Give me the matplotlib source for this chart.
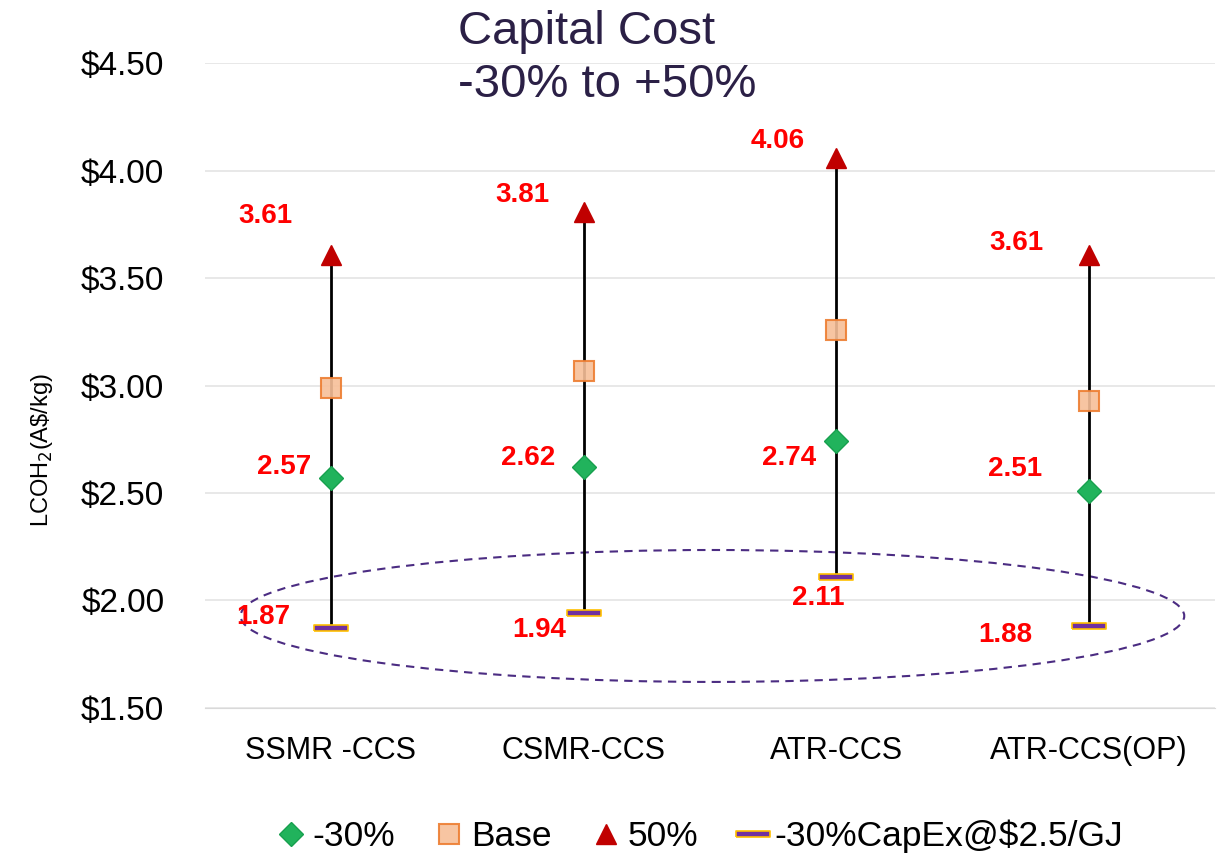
import matplotlib.pyplot as plt
from matplotlib.patches import Ellipse

plt.rcParams['font.family'] = ['Liberation Sans', 'DejaVu Sans']

# LCOH2 sensitivity to capital cost (A$/kg)
routes = ["SSMR -CCS", "CSMR-CCS", "ATR-CCS", "ATR-CCS(OP)"]
low_30 = [2.57, 2.62, 2.74, 2.51]
base = [2.99, 3.07, 3.26, 2.93]
high_50 = [3.61, 3.81, 4.06, 3.61]
low_capex_gas = [1.87, 1.94, 2.11, 1.88]
yticks = [1.5, 2.0, 2.5, 3.0, 3.5, 4.0, 4.5]

# label offsets (points) for each route
off_low = [(-34, 8), (-40, 7), (-34, -12), (-53, 16)]
off_high = [(-47, 28), (-44, 12), (-42, 12), (-52, 8)]
off_gas = [(-49, 8), (-32, -12), (-13, -15), (-60, -6)]

fig = plt.figure(figsize=(12.25, 8.55), dpi=100)
ax = fig.add_axes([0.167, 0.172, 0.825, 0.754])
x = list(range(len(routes)))

# range lines from lowest to highest case
for i in x:
    ax.plot([i, i], [low_capex_gas[i], high_50[i]], color='black', lw=2, zorder=2)

bar_marker = [(-5, -1), (5, -1), (5, 1), (-5, 1), (-5, -1)]
ax.plot(x, low_30, 'D', ms=12, mfc='#21b35c', mec='#17a04e', ls='none', label='-30%', zorder=3)
ax.plot(x, base, 's', ms=15, mfc='#f7bf98', mec='#ed7d31', mew=1.5, ls='none', label='Base', zorder=3, alpha=0.9)
ax.plot(x, high_50, '^', ms=15, mfc='#c00000', mec='#c00000', ls='none', label='50%', zorder=3)
ax.plot(x, low_capex_gas, marker=bar_marker, ms=25, mfc='#7030a0', mec='#ffc000', mew=1.2,
        ls='none', label='-30%CapEx@$2.5/GJ', zorder=4)

lbl = dict(color='red', fontsize=20, fontweight='bold', textcoords='offset points',
           ha='center', va='center')
for i in x:
    ax.annotate(f"{low_30[i]:.2f}", (i, low_30[i]), xytext=off_low[i], **lbl)
    ax.annotate(f"{high_50[i]:.2f}", (i, high_50[i]), xytext=off_high[i], **lbl)
    ax.annotate(f"{low_capex_gas[i]:.2f}", (i, low_capex_gas[i]), xytext=off_gas[i], **lbl)

# highlight the low-cost cases
ax.add_patch(Ellipse((1.51, 1.928), 3.735, 0.614, fill=False, ls=(0, (4, 3)),
                     lw=1.5, ec='#4b2c82', zorder=1, clip_on=False))

ax.set_xlim(-0.5, 3.5)
ax.set_ylim(1.5, 4.5)
ax.set_yticks(yticks)
ax.set_yticklabels([f"${v:.2f}" for v in yticks], fontsize=24)
ax.set_xticks(x)
ax.set_xticklabels(routes, fontsize=22)
ax.tick_params(axis='y', length=0, pad=29)
ax.tick_params(axis='x', length=0, pad=20)
ax.grid(axis='y', color='#e4e4e4', lw=1.2)
ax.set_axisbelow(True)
for s in ['top', 'right', 'left']:
    ax.spines[s].set_visible(False)
ax.spines['bottom'].set_color('#d9d9d9')
ax.set_ylabel("LCOH$_2$(A\\$/kg)", fontsize=17)
ax.yaxis.set_label_coords(-0.148, 0.40)

fig.text(0.374, 0.988, "Capital Cost\n-30% to +50%", fontsize=34, color='#2b2046',
         va='top', ha='left', linespacing=1.25)

fig.legend(loc='center', bbox_to_anchor=(0.569, 0.022), ncol=4, frameon=False,
           fontsize=25.5, handletextpad=0.05, columnspacing=1.0, handlelength=1.1)

fig.savefig('out.png', dpi=100)
